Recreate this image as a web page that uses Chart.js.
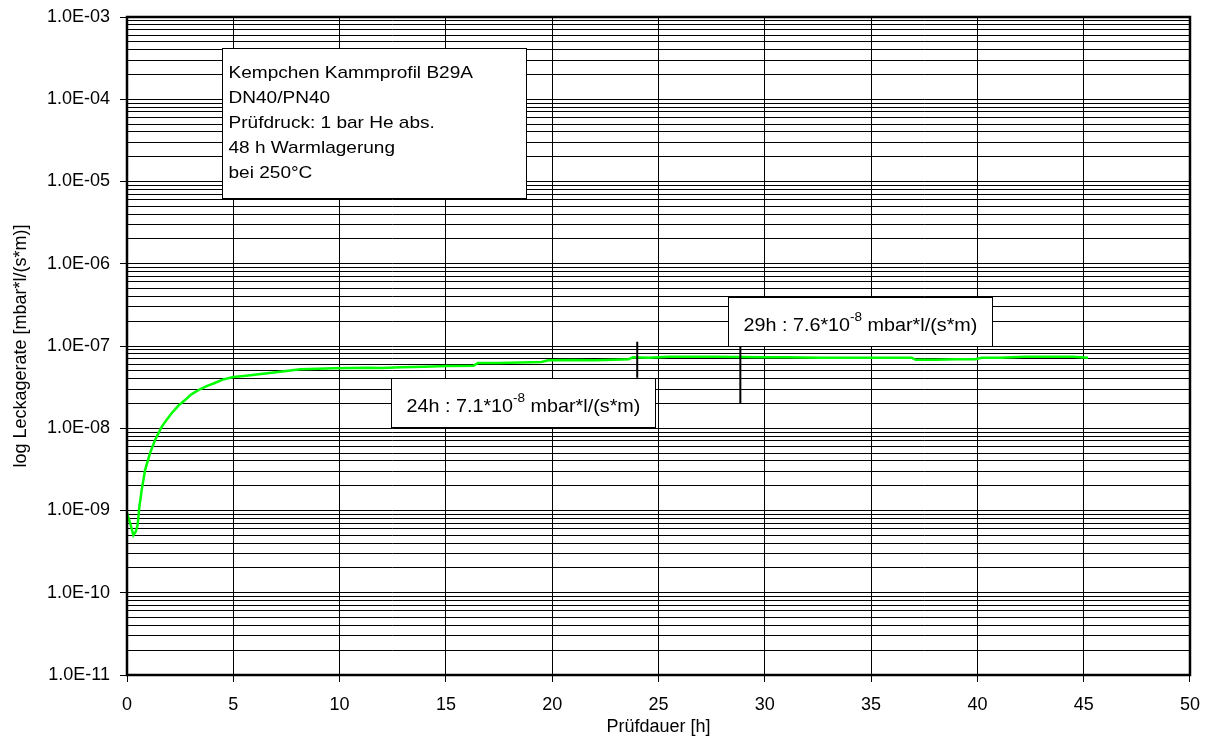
<!DOCTYPE html>
<html>
<head>
<meta charset="utf-8">
<script src="https://cdn.jsdelivr.net/npm/chart.js@4.4.0/dist/chart.umd.min.js"></script>
<style>
body{margin:0;background:#fff;}
</style>
</head>
<body>
<canvas id="graph1" width="1212" height="740"></canvas>
<script>
var hours = [0, 0.15, 0.30, 0.42, 0.50, 0.58, 0.69, 0.85, 1.08, 1.32, 1.63, 1.85, 2.10, 2.43, 2.73, 3.0, 3.2, 3.45, 3.8, 4.07,
  4.5, 5.0, 5.6, 6.6, 7.3, 8.15, 9.0, 9.7, 10.5, 11.3, 12.0, 12.9, 14.0, 15.0, 16.3, 16.5, 17.5, 18.5, 19.5, 19.8,
  21.0, 22.0, 22.9, 23.6, 23.8, 24.5, 25.5, 26.5, 27.6, 28.9, 30.0, 31.0, 32.6, 34.0, 35.5, 36.9, 37.1, 38.0, 39.0, 39.9,
  40.2, 41.1, 42.2, 43.5, 44.5, 45.2];
var rates = [9.3e-10, 7.0e-10, 5.0e-10, 5.6e-10, 6.7e-10, 1.1e-9, 1.77e-9, 3.1e-9, 4.96e-9, 7.2e-9, 1.04e-8, 1.25e-8, 1.52e-8, 1.9e-8, 2.2e-8, 2.55e-8, 2.75e-8, 3.0e-8, 3.3e-8, 3.5e-8,
  3.9e-8, 4.2e-8, 4.35e-8, 4.65e-8, 4.9e-8, 5.2e-8, 5.3e-8, 5.36e-8, 5.4e-8, 5.45e-8, 5.4e-8, 5.5e-8, 5.6e-8, 5.7e-8, 5.75e-8, 6.2e-8, 6.2e-8, 6.3e-8, 6.4e-8, 6.7e-8,
  6.75e-8, 6.7e-8, 6.8e-8, 6.9e-8, 7.3e-8, 7.2e-8, 7.4e-8, 7.4e-8, 7.4e-8, 7.35e-8, 7.3e-8, 7.3e-8, 7.2e-8, 7.2e-8, 7.2e-8, 7.2e-8, 6.8e-8, 6.8e-8, 6.9e-8, 6.9e-8,
  7.2e-8, 7.2e-8, 7.4e-8, 7.4e-8, 7.4e-8, 7.2e-8];

// Markierungen 24h / 29h
var markerHours = [24, 28.85];
var markerTop = [1.13e-7, 1.0e-7];
var markerBottom = [4.1e-8, 2.0e-8];
var calloutHead = ["24h : 7.1*10", "29h : 7.6*10"];
var calloutExp = ["-8", "-8"];
var calloutTail = [" mbar*l/(s*m)", " mbar*l/(s*m)"];
var infoLines = ["Kempchen Kammprofil B29A", "DN40/PN40", "Prüfdruck: 1 bar He abs.", "48 h Warmlagerung", "bei 250°C"];

// Achsen
var xMin = 0, xMax = 50, xStep = 5;
var yMinExp = -11, yMaxExp = -3;

var FONT = 'Arial, "Liberation Sans", sans-serif';
Chart.defaults.font.family = FONT;
Chart.defaults.color = '#000';

function isDecade(v) {
  var l = Math.log10(v);
  return Math.abs(l - Math.round(l)) < 1e-6;
}

function stretchText(c, str, x, y, size, sx) {
  c.save();
  c.font = size + 'px ' + FONT;
  c.translate(x, y);
  c.scale(sx, 1);
  c.fillText(str, 0, 0);
  var w = c.measureText(str).width * sx;
  c.restore();
  return w;
}

function box(c, xs, ys, x0, x1, y0, y1) {
  var l = Math.round(xs.getPixelForValue(x0)) + 0.5;
  var r = Math.round(xs.getPixelForValue(x1)) + 0.5;
  var t = Math.round(ys.getPixelForValue(y0)) + 0.5;
  var b = Math.round(ys.getPixelForValue(y1)) + 0.5;
  c.fillStyle = '#fff';
  c.fillRect(l, t, r - l, b - t);
  c.strokeStyle = '#000';
  c.lineWidth = 1;
  c.strokeRect(l, t, r - l, b - t);
  return {l: l, t: t};
}

var boxPlugin = {
  id: 'boxes',
  afterDatasetsDraw: function(chart) {
    var c = chart.ctx, a = chart.chartArea;
    var xs = chart.scales.x, ys = chart.scales.y;
    c.save();
    // Rahmen
    c.strokeStyle = '#000';
    c.lineWidth = 2.5;
    c.strokeRect(a.left, a.top, a.right - a.left, a.bottom - a.top);
    c.textBaseline = 'alphabetic';

    // Infobox
    var p = box(c, xs, ys, 4.47, 18.78, 4.2e-4, 6.3e-6);
    c.fillStyle = '#000';
    for (var i = 0; i < infoLines.length; i++) {
      stretchText(c, infoLines[i], p.l + 6, p.t + 29.5 + i * 25, 17, 1.12);
    }

    // Beschriftungen
    var boxes = [[12.42, 24.82, 4.05e-8, 1.035e-8], [28.27, 40.7, 3.91e-7, 1.01e-7]];
    for (var k = 0; k < boxes.length; k++) {
      var q = box(c, xs, ys, boxes[k][0], boxes[k][1], boxes[k][2], boxes[k][3]);
      c.fillStyle = '#000';
      var x = q.l + 15, y = q.t + 33;
      x += stretchText(c, calloutHead[k], x, y, 19, 1.04);
      x += stretchText(c, calloutExp[k], x, y - 9.5, 13, 1.04);
      stretchText(c, calloutTail[k], x, y, 19, 1.04);
    }
    c.restore();
  }
};

document.addEventListener('DOMContentLoaded', function() {
  var ctx = document.querySelector('#graph1').getContext('2d');

  var points = [];
  for (let i = 0; i < hours.length; i++) {
    points.push({x: hours[i], y: rates[i]});
  }
  var datasets = [{
    data: points,
    borderColor: '#00ff00',
    borderWidth: 2.5,
    pointRadius: 0,
    tension: 0,
    order: 2
  }];
  for (let i = 0; i < markerHours.length; i++) {
    datasets.push({
      data: [{x: markerHours[i], y: markerTop[i]}, {x: markerHours[i], y: markerBottom[i]}],
      borderColor: '#000',
      borderWidth: 2,
      pointRadius: 0,
      order: 1
    });
  }

  new Chart(ctx, {
    type: 'line',
    data: {datasets: datasets},
    plugins: [boxPlugin],
    options: {
      responsive: false,
      animation: false,
      events: [],
      layout: {padding: {top: 17, right: 22, left: 0, bottom: 0}},
      plugins: {legend: {display: false}, tooltip: {enabled: false}},
      scales: {
        x: {
          type: 'linear',
          min: xMin,
          max: xMax,
          afterFit: function(s) { s.height = 65; },
          border: {display: false},
          grid: {color: '#000', lineWidth: 1, tickLength: 7, tickColor: '#000'},
          ticks: {stepSize: xStep, padding: 12, font: {size: 18}, maxRotation: 0},
          title: {display: true, text: 'Prüfdauer [h]', font: {size: 18}, padding: {top: 0, bottom: 2.5}}
        },
        y: {
          type: 'logarithmic',
          min: Math.pow(10, yMinExp),
          max: Math.pow(10, yMaxExp),
          afterFit: function(s) { s.width = 127; s.paddingTop = 0; s.paddingBottom = 0; },
          afterBuildTicks: function(s) {
            var t = [];
            for (let e = yMinExp; e <= yMaxExp; e++) {
              for (let m = 1; m <= 9; m++) {
                if (e == yMaxExp && m > 1) break;
                t.push({value: m * Math.pow(10, e)});
              }
            }
            s.ticks = t;
          },
          border: {display: false},
          grid: {
            color: '#000',
            lineWidth: 1,
            tickLength: 7,
            tickColor: function(c) { return c.tick && isDecade(c.tick.value) ? '#000' : 'rgba(0,0,0,0)'; }
          },
          ticks: {
            autoSkip: false,
            padding: 10,
            font: {size: 18},
            callback: function(v) {
              if (!isDecade(v)) return '';
              var e = Math.round(Math.log10(v));
              return '1.0E' + (e < 0 ? '-' : '+') + String(Math.abs(e)).padStart(2, '0');
            }
          },
          title: {display: true, text: 'log Leckagerate [mbar*l/(s*m)]', font: {size: 18}, padding: {top: 10, bottom: 0}}
        }
      }
    }
  });
});
</script>
</body>
</html>
